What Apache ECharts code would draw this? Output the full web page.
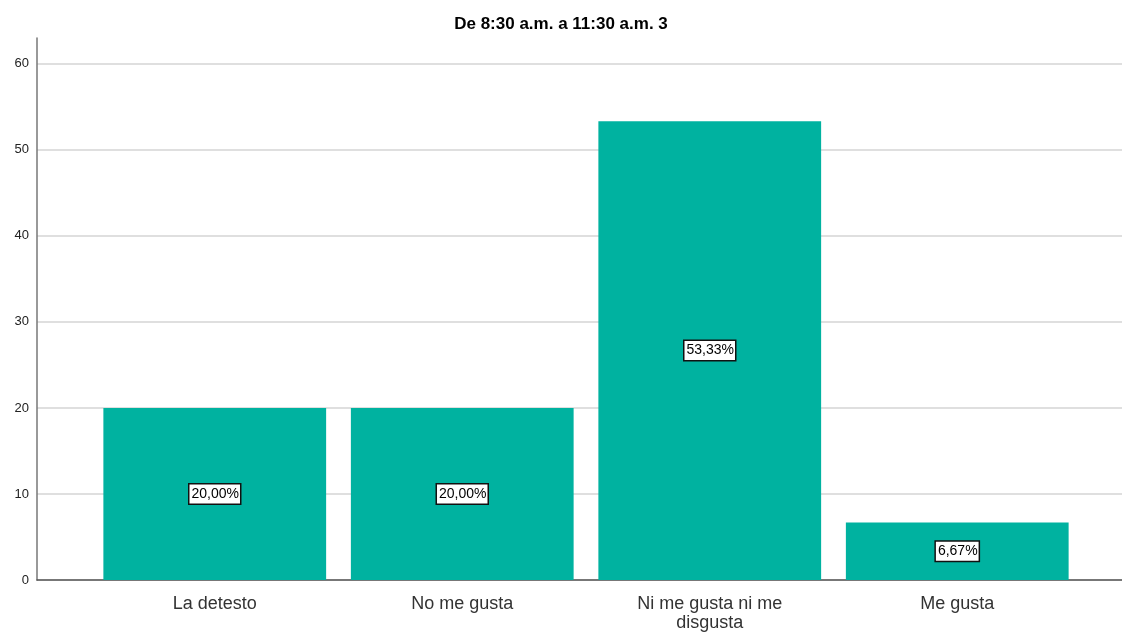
<!DOCTYPE html>
<html>
<head>
<meta charset="utf-8">
<script src="https://cdn.jsdelivr.net/npm/echarts@6/dist/echarts.min.js"></script>
<style>html,body{margin:0;padding:0;background:#fff}#c{width:1122px;height:637px}</style>
</head>
<body>
<div id="c"></div>
<script>
const title = 'De 8:30 a.m. a 11:30 a.m. 3';
const categories = ['La detesto', 'No me gusta', 'Ni me gusta ni me\ndisgusta', 'Me gusta'];
const values = [20.00, 20.00, 53.33, 6.67];
const yTicks = [0, 10, 20, 30, 40, 50, 60];

const FONT = '"Liberation Sans", Arial, sans-serif';
const chart = echarts.init(document.getElementById('c'));
const yMin = 0, yMax = 63, yInt = 10;
chart.setOption({
  animation: false,
  backgroundColor: '#fff',
  title: {
    text: title, left: 'center', top: 11,
    textStyle: { fontFamily: FONT, fontSize: 17, fontWeight: 'bold', color: '#000' }
  },
  grid: [
    { left: 37, right: 0, top: 38, bottom: 57 },
    { left: 91, right: 41, top: 38, bottom: 57 }
  ],
  xAxis: [
    { gridIndex: 0, type: 'category', data: categories, axisLine: { lineStyle: { color: '#555', width: 1.5 } },
      axisTick: { show: false }, axisLabel: { show: false } },
    { gridIndex: 1, type: 'category', data: categories, axisLine: { show: false }, axisTick: { show: false },
      axisLabel: { fontFamily: FONT, fontSize: 18, color: '#333', margin: 15, lineHeight: 19 } }
  ],
  yAxis: [
    { gridIndex: 0, type: 'value', min: yMin, max: yMax, interval: yInt,
      axisLine: { show: true, lineStyle: { color: '#777', width: 1.5 } }, axisTick: { show: false },
      axisLabel: { fontFamily: FONT, fontSize: 13, color: '#222', margin: 8, showMaxLabel: false,
        formatter: v => yTicks.includes(v) ? String(v) : '' },
      splitLine: { show: true, showMaxLine: false, lineStyle: { color: '#d4d4d4', width: 1.5 } } },
    { gridIndex: 1, type: 'value', min: yMin, max: yMax, interval: yInt, show: false, splitLine: { show: false } }
  ],
  series: [{
    type: 'bar', xAxisIndex: 1, yAxisIndex: 1, data: values, barCategoryGap: '10%',
    itemStyle: { color: '#00B2A0' },
    label: {
      show: true, position: 'inside', fontFamily: FONT, fontSize: 14, color: '#000',
      backgroundColor: '#fff', borderColor: '#111', borderWidth: 1.5, padding: [3, 1, 2, 2],
      formatter: p => p.value.toFixed(2).replace('.', ',') + '%'
    }
  }]
});
</script>
</body>
</html>
